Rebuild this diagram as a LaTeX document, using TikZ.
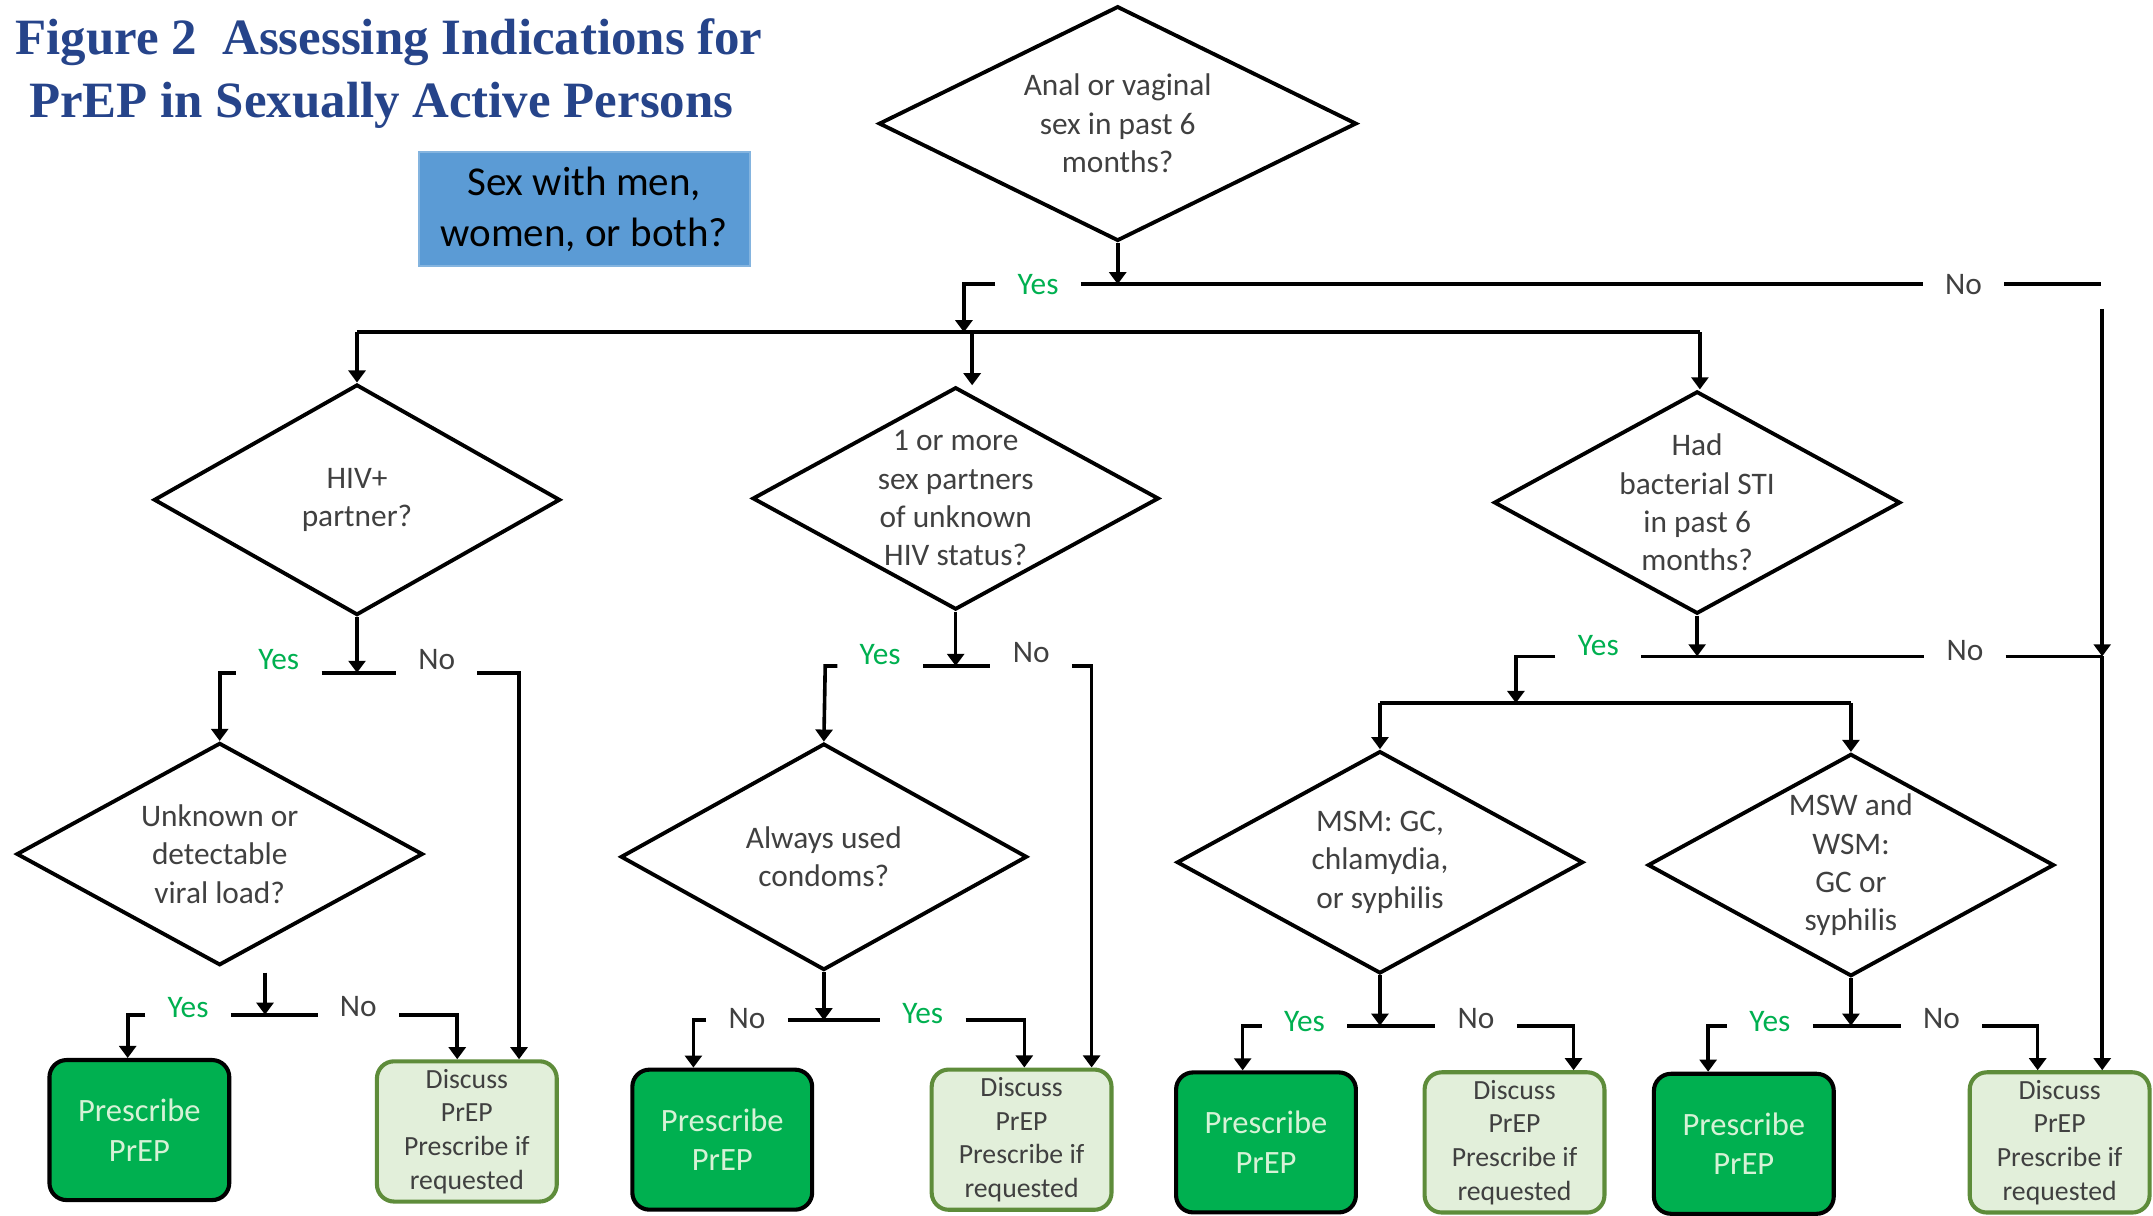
\documentclass[tikz,border=0pt]{standalone}
\usepackage{fontspec}
\setmainfont{Carlito}
\newfontfamily\titlefont{Liberation Serif}
\usetikzlibrary{shapes.geometric,arrows.meta,calc}

\definecolor{titleblue}{RGB}{38,68,138}
\definecolor{boxblue}{RGB}{91,155,213}
\definecolor{yesgreen}{RGB}{0,176,80}
\definecolor{rxtext}{RGB}{214,242,214}
\definecolor{discfill}{RGB}{226,239,218}
\definecolor{discline}{RGB}{94,140,58}
\definecolor{qgray}{RGB}{64,64,64}

\begin{document}
\begin{tikzpicture}[x=0.02cm,y=-0.02cm,->,>={Triangle[length=5pt,width=7pt]},line width=1.5pt,
    question/.style={diamond,draw,line width=1.6pt,inner sep=0pt,minimum width=5.92cm,minimum height=3.24cm},
    qtext/.style={text=qgray,align=center,font=\fontsize{13}{15.9}\selectfont},
    prescribe/.style={rectangle,rounded corners=0.25cm,draw=black,line width=1.7pt,fill=yesgreen,text=rxtext,
        minimum width=2.62cm,minimum height=2.04cm,align=center,font=\fontsize{13.5}{16.4}\selectfont},
    discuss/.style={rectangle,rounded corners=0.25cm,draw=discline,line width=1.7pt,fill=discfill,text=qgray,
        minimum width=2.62cm,minimum height=2.04cm,align=center,font=\fontsize{11.5}{13.9}\selectfont},
    answer/.style={inner xsep=0.3cm,inner ysep=0pt,font=\fontsize{13}{15.6}\selectfont},
    yes/.style={answer,text=yesgreen},
    no/.style={answer,text=qgray}]

    \useasboundingbox (0,0) rectangle (1568,885);

    % title and the blue box
    \node[anchor=base west,inner sep=0pt,text=titleblue,font=\titlefont\bfseries\fontsize{21.1}{25}\selectfont] (t1) at (10,39.6)
    {
        Figure 2~~Assessing Indications for
    };
    \node[anchor=base west,inner sep=0pt,text=titleblue,font=\titlefont\bfseries\fontsize{21.1}{25}\selectfont] (t2) at (20,85.5)
    {
        PrEP in Sexually Active Persons
    };
    \node[draw=boxblue!75!white,line width=0.8pt,fill=boxblue,minimum width=4.82cm,minimum height=1.66cm,
        align=center,font=\fontsize{17}{21}\selectfont] (0) at (425.5,152.5)
    {
        Sex with men,\\women, or both?
    };

    % questions
    \node[question,minimum width=6.96cm,minimum height=3.42cm,
        label={[qtext]center:{Anal or vaginal\\sex in past 6\\months?}}] (1) at (814,90) {};
    \node[question,minimum height=3.36cm,
        label={[qtext]center:{HIV+\\partner?}}] (2) at (260,364) {};
    \node[question,
        label={[qtext]center:{1 or more\\sex partners\\of unknown\\HIV status?}}] (3) at (696,363) {};
    \node[question,
        label={[qtext]center:{Had\\bacterial STI\\in past 6\\months?}}] (4) at (1236,366) {};
    \node[question,
        label={[qtext]center:{Unknown or\\detectable\\viral load?}}] (5) at (160,622) {};
    \node[question,minimum height=3.3cm,
        label={[qtext]center:{Always used\\condoms?}}] (8) at (600,624) {};
    \node[question,
        label={[qtext]center:{MSM: GC,\\chlamydia,\\or syphilis}}] (11) at (1005,628) {};
    \node[question,
        label={[qtext]center:{MSW and\\WSM:\\GC or\\syphilis}}] (12) at (1348,630) {};

    % outcomes
    \node[prescribe] (6) at (101.5,823) {Prescribe\\PrEP};
    \node[discuss] (7) at (340,824) {Discuss\\PrEP\\Prescribe if\\requested};
    \node[prescribe] (9) at (526,830) {Prescribe\\PrEP};
    \node[discuss] (10) at (744,830) {Discuss\\PrEP\\Prescribe if\\requested};
    \node[prescribe] (13) at (922,832) {Prescribe\\PrEP};
    \node[discuss] (14) at (1103,832) {Discuss\\PrEP\\Prescribe if\\requested};
    \node[prescribe] (15) at (1270,833) {Prescribe\\PrEP};
    \node[discuss] (16) at (1500,832) {Discuss\\PrEP\\Prescribe if\\requested};

    % answers
    \node[yes] (y0) at (756,207) {Yes};
    \node[no] (n0) at (1430,207) {No};
    \node[yes] (y1) at (203,480) {Yes};
    \node[no] (n1) at (318,480) {No};
    \node[yes] (y2) at (137,734) {Yes};
    \node[no] (n2) at (261,733) {No};
    \node[yes] (y3) at (641,477) {Yes};
    \node[no] (n3) at (751,475) {No};
    \node[no] (n4) at (544,742) {No};
    \node[yes] (y4) at (672,738) {Yes};
    \node[yes] (y5) at (1164,470) {Yes};
    \node[no] (n5) at (1431,474) {No};
    \node[yes] (y6) at (950,744) {Yes};
    \node[no] (n6) at (1075,742) {No};
    \node[yes] (y7) at (1289,744) {Yes};
    \node[no] (n7) at (1414,742) {No};

    % junctions and corners
    \coordinate (j0) at (814,207);
    \coordinate (c0l) at (702,207);
    \coordinate (c0r) at (1530,207);
    \coordinate (b0) at (702,242);
    \coordinate (bl) at (260,242);
    \coordinate (bm) at (708,242);
    \coordinate (br) at (1238,242);
    \coordinate (v0) at (1531,225);
    \coordinate (j1) at (260,490);
    \coordinate (c1l) at (160,490);
    \coordinate (c1r) at (378,490);
    \coordinate (j2) at (193,739);
    \coordinate (c2l) at (93,739);
    \coordinate (c2r) at (333,739);
    \coordinate (j3) at (699,485);
    \coordinate (c3l) at (601,485);
    \coordinate (c3r) at (795,485);
    \coordinate (j4) at (603,743);
    \coordinate (c4l) at (505,743);
    \coordinate (c4r) at (746,743);
    \coordinate (j5) at (1237,478);
    \coordinate (c5l) at (1104,478);
    \coordinate (j5r) at (1531,478);
    \coordinate (b5) at (1104,512);
    \coordinate (b5l) at (1005,512);
    \coordinate (b5r) at (1348,512);
    \coordinate (j6) at (1006,747);
    \coordinate (c6l) at (905,747);
    \coordinate (c6r) at (1146,747);
    \coordinate (j7) at (1347,747);
    \coordinate (c7l) at (1244,747);
    \coordinate (c7r) at (1484,747);

    % top question
    \draw (1.south) -- (j0);
    \draw (y0.west |- j0) -- (c0l) -- (b0);
    \draw[-] (y0.east |- j0) -- (n0.west |- j0);
    \draw[-] (n0.east |- j0) -- (c0r);
    \draw[-] (bl) -- (br);
    \draw (bl) -- (2.north);
    \draw (bm) -- (bm |- 3.north);
    \draw (br) -- (br |- 4.north);
    \draw (v0) -- (j5r);
    \draw (j5r) -- (j5r |- 16.north);

    % HIV+ partner
    \draw (2.south) -- (j1);
    \draw (y1.west |- j1) -- (c1l) -- (5.north);
    \draw[-] (y1.east |- j1) -- (n1.west |- j1);
    \draw (n1.east |- j1) -- (c1r) -- (c1r |- 7.north);

    % viral load
    \draw ($(5.south)+(33,4)$) -- (j2);
    \draw (y2.west |- j2) -- (c2l) -- (c2l |- 6.north);
    \draw[-] (y2.east |- j2) -- (n2.west |- j2);
    \draw (n2.east |- j2) -- (c2r) -- (c2r |- 7.north);

    % partners of unknown status
    \draw (3.south) -- (3.south |- j3);
    \draw (y3.west |- j3) -- (c3l) -- (8.north);
    \draw[-] (y3.east |- j3) -- (n3.west |- j3);
    \draw (n3.east |- j3) -- (c3r) -- (c3r |- 10.north);

    % condoms
    \draw (8.south) -- (8.south |- j4);
    \draw (n4.west |- j4) -- (c4l) -- (c4l |- 9.north);
    \draw[-] (n4.east |- j4) -- (y4.west |- j4);
    \draw (y4.east |- j4) -- (c4r) -- (c4r |- 10.north);

    % bacterial STI
    \draw (4.south) -- (4.south |- j5);
    \draw (y5.west |- j5) -- (c5l) -- (b5);
    \draw[-] (y5.east |- j5) -- (n5.west |- j5);
    \draw[-] (n5.east |- j5) -- (j5r);
    \draw[-] (b5l) -- (b5r);
    \draw (b5l) -- (11.north);
    \draw (b5r) -- (12.north);

    % MSM
    \draw (11.south) -- (11.south |- j6);
    \draw (y6.west |- j6) -- (c6l) -- (c6l |- 13.north);
    \draw[-] (y6.east |- j6) -- (n6.west |- j6);
    \draw (n6.east |- j6) -- (c6r) -- (c6r |- 14.north);

    % MSW and WSM
    \draw (12.south) -- (12.south |- j7);
    \draw (y7.west |- j7) -- (c7l) -- (c7l |- 15.north);
    \draw[-] (y7.east |- j7) -- (n7.west |- j7);
    \draw (n7.east |- j7) -- (c7r) -- (c7r |- 16.north);
\end{tikzpicture}
\end{document}
